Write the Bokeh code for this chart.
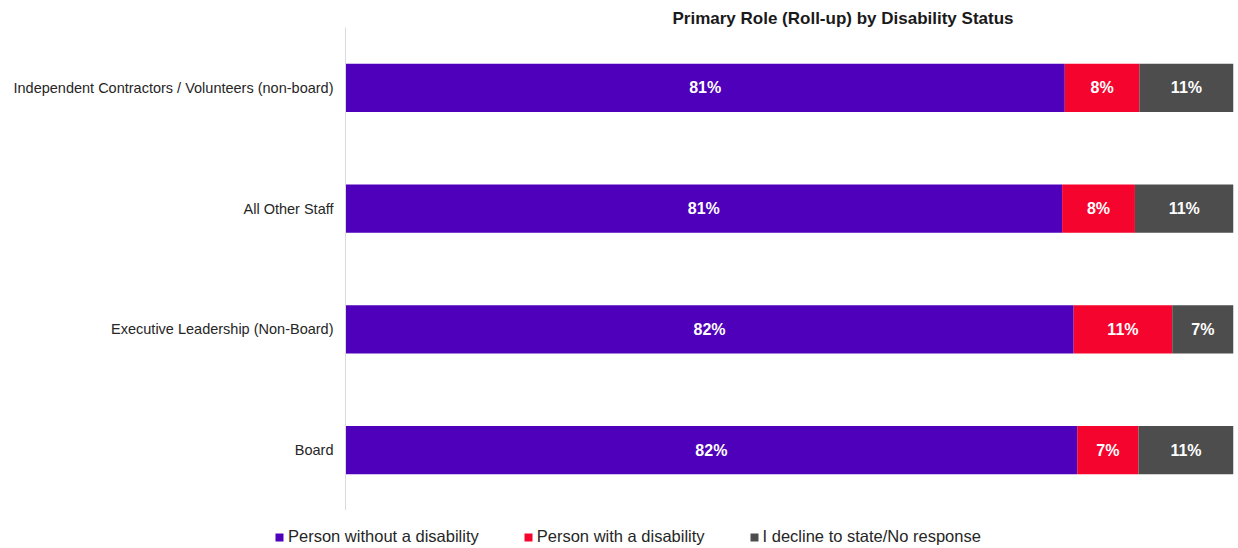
from bokeh.plotting import figure
from bokeh.models import ColumnDataSource, FactorRange, Range1d, Legend, LegendItem
from bokeh.embed import file_html
from bokeh.resources import INLINE
from bokeh.core.properties import value

roles = ["Board", "Executive Leadership (Non-Board)", "All Other Staff",
         "Independent Contractors / Volunteers (non-board)"]
without_dis = [82.4, 82.0, 80.7, 81.0]
with_dis = [6.9, 11.1, 8.2, 8.4]
decline = [10.7, 6.9, 11.1, 10.6]
series = ["without", "with", "decline"]
series_labels = ["Person without a disability", "Person with a disability", "I decline to state/No response"]
colors = ["#4F00BA", "#F5052E", "#4D4D4D"]

FONT = "Liberation Sans"

data = dict(role=roles, without=without_dis, **{"with": with_dis}, decline=decline)
cum = [0.0] * len(roles)
for s in series:
    vals = data[s]
    data[s + "_mid"] = [c + v / 2 for c, v in zip(cum, vals)]
    data[s + "_txt"] = [f"{round(v)}%" for v in vals]
    cum = [c + v for c, v in zip(cum, vals)]
src = ColumnDataSource(data)

p = figure(width=1236, height=510, y_range=FactorRange(*roles), x_range=Range1d(0, 100),
           output_backend="svg", toolbar_location=None,
           min_border_left=345, min_border_right=3, min_border_top=27, min_border_bottom=0)

p.title.text = "Primary Role (Roll-up) by Disability Status"
p.title.text_font = FONT
p.title.text_font_size = "17px"
p.title.text_font_style = "bold"
p.title.text_color = "#1a1a1a"
p.title.align = "left"
p.title.offset = 327
p.title.standoff = 0

renderers = p.hbar_stack(series, y="role", height=0.4, color=colors, source=src,
                         line_color=None)

for s in series:
    p.text(x=s + "_mid", y="role", text=s + "_txt", source=src,
           text_color="white", text_font=value(FONT), text_font_size="16px",
           text_font_style="bold", text_align="center", text_baseline="middle")

p.xaxis.visible = False
p.xgrid.visible = False
p.ygrid.visible = False
p.outline_line_color = None
p.yaxis.axis_line_color = "#d9d9d9"
p.yaxis.major_tick_line_color = None
p.yaxis.minor_tick_line_color = None
p.yaxis.major_label_text_font = FONT
p.yaxis.major_label_text_font_size = "14.5px"
p.yaxis.major_label_text_color = "#262626"
p.yaxis.major_label_standoff = 6
p.y_range.range_padding = 0

# legend strip below the chart (separate root so its frame spans the full width);
# its bar renderers use the same data but lie outside the strip's visible range
pl = figure(width=1236, height=36, x_range=Range1d(-2, -1), y_range=FactorRange(*roles),
            output_backend="svg", toolbar_location=None,
            min_border_left=0, min_border_right=0, min_border_top=0, min_border_bottom=0)
pl.xaxis.visible = False
pl.yaxis.visible = False
pl.xgrid.visible = False
pl.ygrid.visible = False
pl.outline_line_color = None
legend_renderers = pl.hbar_stack(series, y="role", height=0.4, color=colors, source=src,
                                 line_color=None)
legend = Legend(items=[LegendItem(label=l, renderers=[r]) for l, r in zip(series_labels, legend_renderers)],
                orientation="horizontal", location=(274, 0),
                label_text_font=FONT, label_text_font_size="16.5px", label_text_color="#262626",
                glyph_width=10, glyph_height=10, label_standoff=4, spacing=44,
                border_line_color=None, padding=0, margin=0, background_fill_alpha=0)
pl.add_layout(legend, "center")

open("out.html", "w").write(file_html([p, pl], INLINE))
